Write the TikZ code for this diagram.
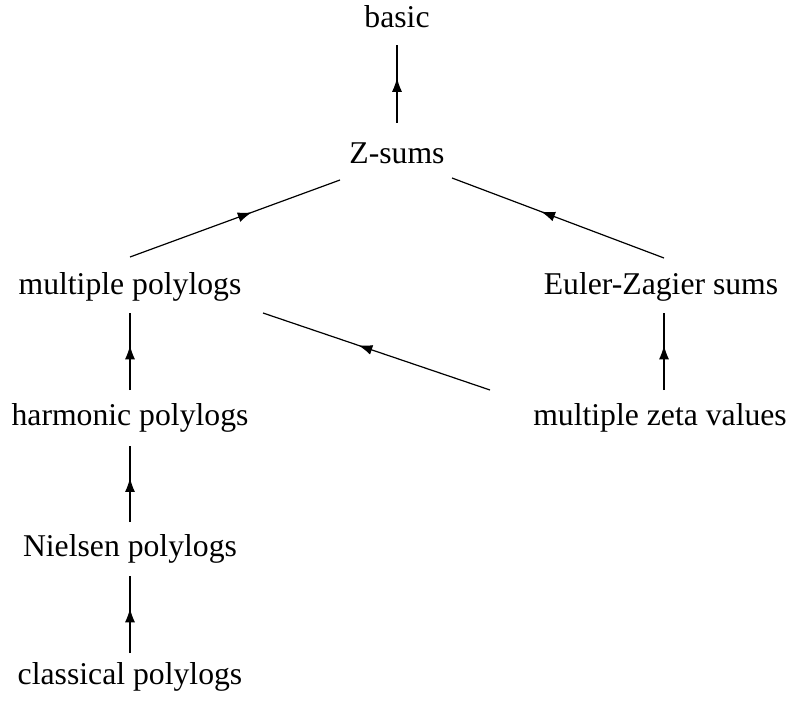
\documentclass[tikz,border=0pt]{standalone}
\usepackage{fontspec}
\setmainfont{Liberation Serif}
\usetikzlibrary{calc,decorations.markings,arrows.meta}
\tikzset{
  lbl/.style={anchor=base,inner sep=0pt,font=\fontsize{31.7bp}{38bp}\selectfont},
  midarrow/.style={line width=1.2bp,postaction={decorate},
    decoration={markings,mark=at position 0.58 with {\arrow{Latex[length=14bp,width=10bp]}}}}
}
\begin{document}
\begin{tikzpicture}[x=1bp,y=-1bp]
\useasboundingbox (0,0) rectangle (788,702);
\node[lbl] (basic) at (397,28) {basic};
\node[lbl] (zs) at (397,163) {Z-sums};
\node[lbl] (mp) at (130,294) {multiple polylogs};
\node[lbl] (eu) at (661,294) {Euler-Zagier sums};
\node[lbl] (hp) at (130,425) {harmonic polylogs};
\node[lbl] (mzv) at (660,425) {multiple zeta values};
\node[lbl] (np) at (130,556) {Nielsen polylogs};
\node[lbl] (cp) at (130,684) {classical polylogs};
\draw[midarrow] ($(zs.base)+(0,-40)$) -- ($(basic.base)+(0,17)$);
\draw[midarrow] ($(mp.base)+(0,-37)$) -- ($(zs.base)+(-57,17)$);
\draw[midarrow] ($(eu.base)+(3,-36)$) -- ($(zs.base)+(55,15)$);
\draw[midarrow] ($(mzv.base)+(-170,-35)$) -- ($(mp.base)+(133,19)$);
\draw[midarrow] ($(hp.base)+(0,-35)$) -- ($(mp.base)+(0,19)$);
\draw[midarrow] ($(mzv.base)+(4,-35)$) -- ($(eu.base)+(3,19)$);
\draw[midarrow] ($(np.base)+(0,-34)$) -- ($(hp.base)+(0,21)$);
\draw[midarrow] ($(cp.base)+(0,-31)$) -- ($(np.base)+(0,20)$);
\end{tikzpicture}
\end{document}
